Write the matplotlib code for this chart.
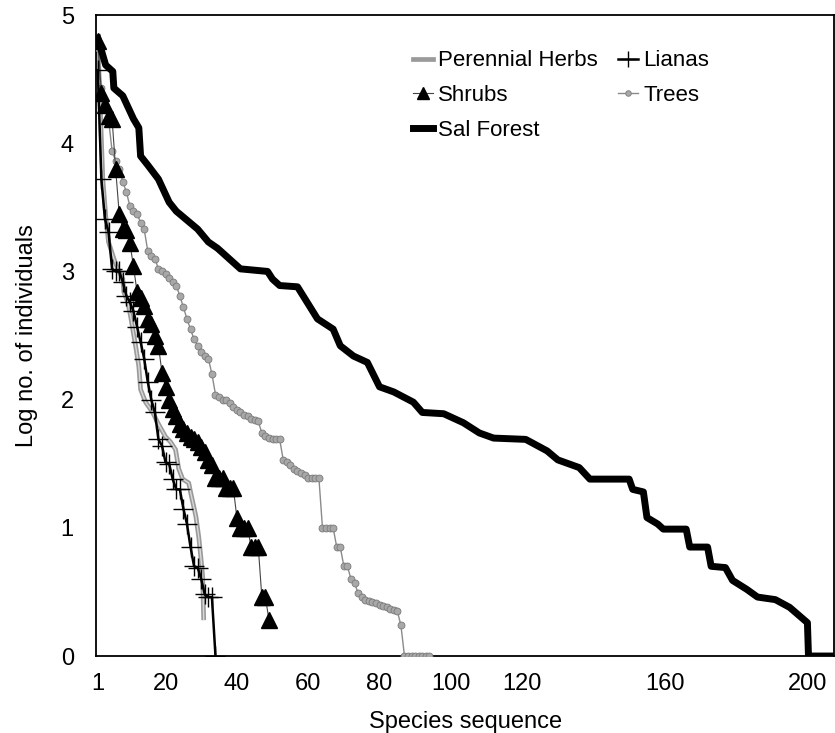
import matplotlib
matplotlib.use('Agg')
import matplotlib.pyplot as plt

plt.rcParams['font.family'] = ['Liberation Sans', 'DejaVu Sans']

# Perennial herbs (line only): rank, log abundance
herb_rank = [1, 2.4, 3.2, 4, 5.5, 6.6, 8, 8.3, 9.4, 10.2, 10.8, 11.6, 12.5, 13, 14.4,
             16.4, 17.8, 20, 21.4, 22.8, 23.7, 24.8, 26.5, 27, 28.5, 29.3, 29.9, 30.4, 30.7]
herb_log = [4.8, 3.72, 3.44, 3.23, 3.1, 3.02, 2.94, 2.84, 2.76, 2.65, 2.55, 2.42, 2.26, 2.08, 1.98,
            1.9, 1.82, 1.71, 1.67, 1.61, 1.46, 1.38, 1.35, 1.28, 1.09, 0.93, 0.77, 0.62, 0.28]

# Lianas, one value per species
liana_log = [4.57, 3.72, 3.41, 3.31, 3.02, 3.0, 3.0, 2.92, 2.81, 2.76, 2.69, 2.57, 2.45, 2.32,
             2.14, 2.0, 1.9, 1.69, 1.64, 1.51, 1.5, 1.38, 1.3, 1.3, 1.15, 1.03, 0.85, 0.7,
             0.69, 0.6, 0.48, 0.46, 0.46, 0.0]

# Shrubs, one value per species
shrub_log = [4.8, 4.39, 4.3, 4.21, 4.19, 3.8, 3.45, 3.33, 3.32, 3.22, 3.04, 2.84, 2.79, 2.73,
             2.63, 2.59, 2.5, 2.42, 2.21, 2.1, 2.0, 1.93, 1.87, 1.81, 1.77, 1.74, 1.71, 1.69,
             1.67, 1.63, 1.59, 1.53, 1.49, 1.39, 1.39, 1.39, 1.31, 1.31, 1.31, 1.08, 1.0, 1.0,
             1.0, 0.85, 0.85, 0.85, 0.46, 0.46, 0.28]

# Trees, one value per species
tree_log = [4.74, 4.43, 4.3, 4.19, 3.94, 3.86, 3.8, 3.7, 3.62, 3.51, 3.47, 3.45, 3.38, 3.33,
            3.16, 3.12, 3.1, 3.02, 3.0, 2.98, 2.95, 2.92, 2.89, 2.81, 2.72, 2.63, 2.55, 2.47,
            2.42, 2.37, 2.34, 2.32, 2.2, 2.04, 2.02, 2.0, 2.0, 1.97, 1.94, 1.92, 1.9, 1.88,
            1.87, 1.85, 1.84, 1.83, 1.74, 1.72, 1.7, 1.69, 1.69, 1.69, 1.53, 1.51, 1.49, 1.46,
            1.44, 1.43, 1.41, 1.39, 1.39, 1.39, 1.39, 1.0, 1.0, 1.0, 1.0, 0.85, 0.85, 0.7,
            0.7, 0.6, 0.57, 0.49, 0.46, 0.44, 0.43, 0.42, 0.41, 0.4, 0.39, 0.38, 0.37, 0.36,
            0.35, 0.24, 0.0, 0.0, 0.0, 0.0, 0.0, 0.0, 0.0, 0.0]

# Sal forest (all species, line only)
sal_rank = [1, 3.2, 5.2, 5.5, 8, 11, 12.5, 13, 15, 18, 21, 23, 29, 32, 34.6, 39, 41, 48.6, 50,
            52, 57, 62.6, 67, 69, 72.7, 76.6, 80, 84, 89.5, 92, 98, 103.5, 108, 112, 121, 127,
            130, 136, 139, 150, 151, 154, 155, 158, 159.6, 166, 167, 172, 173, 177, 179, 183,
            186, 191, 195, 200, 200.3, 207.5]
sal_log = [4.82, 4.61, 4.56, 4.43, 4.37, 4.19, 4.12, 3.9, 3.83, 3.72, 3.54, 3.47, 3.33, 3.23,
           3.18, 3.07, 3.02, 3.0, 2.94, 2.89, 2.88, 2.63, 2.55, 2.42, 2.34, 2.29, 2.1, 2.06,
           1.98, 1.9, 1.89, 1.82, 1.74, 1.7, 1.69, 1.6, 1.53, 1.47, 1.38, 1.38, 1.3, 1.28,
           1.08, 1.03, 0.99, 0.99, 0.85, 0.85, 0.7, 0.69, 0.59, 0.52, 0.46, 0.44, 0.38, 0.26,
           0.0, 0.0]

x_ticks = [1, 20, 40, 60, 80, 100, 120, 160, 200]
y_ticks = [0, 1, 2, 3, 4, 5]

fig = plt.figure(figsize=(8.35, 7.33), dpi=100)
ax = fig.add_axes([0.115, 0.105, 0.884, 0.8745])

liana_rank = list(range(1, len(liana_log) + 1))
shrub_rank = list(range(1, len(shrub_log) + 1))
tree_rank = list(range(1, len(tree_log) + 1))

# herbs: grey band with a pale centre, like the printed double line
ax.plot(herb_rank, herb_log, color='#9a9a9a', lw=3.4, zorder=2, solid_capstyle='butt')
ax.plot(herb_rank, herb_log, color='#d8d8d8', lw=1.0, zorder=2.1, solid_capstyle='butt')
h_herb, = ax.plot([], [], color='#9a9a9a', lw=3.4, label='Perennial Herbs')

h_tree, = ax.plot(tree_rank, tree_log, color='#8a8a8a', lw=1, marker='o', ms=5,
                  mfc='#a8a8a8', mec='#7a7a7a', mew=0.6, label='Trees', zorder=3)
h_shrub, = ax.plot(shrub_rank, shrub_log, color='#444444', lw=0.8, marker='^', ms=11,
                   mfc='black', mec='black', label='Shrubs', zorder=4)
h_liana, = ax.plot(liana_rank, liana_log, color='black', lw=1.8, marker='+', ms=15,
                   mew=1.0, label='Lianas', zorder=5)
h_sal, = ax.plot(sal_rank, sal_log, color='black', lw=5, solid_joinstyle='round',
                 label='Sal Forest', zorder=6)

ax.set_xlim(0.5, 207.5)
ax.set_ylim(0, 5)
ax.set_xticks(x_ticks)
ax.set_yticks(y_ticks)
ax.tick_params(length=0, labelsize=17)
ax.tick_params(axis='y', pad=16)
ax.tick_params(axis='x', pad=12)
for s in ax.spines.values():
    s.set_linewidth(1.3)

ax.set_xlabel('Species sequence', fontsize=17, labelpad=12)
ax.set_ylabel('Log no. of individuals', fontsize=17, labelpad=16)

handles = [h_herb, h_shrub, h_sal, h_liana, h_tree]
ax.legend(handles=handles, labels=[h.get_label() for h in handles], ncol=2, frameon=False,
          fontsize=16, handlelength=0.9, handletextpad=0.25, columnspacing=0.9,
          labelspacing=0.62, borderpad=0, borderaxespad=0, markerscale=0.8,
          loc='upper left', bbox_to_anchor=(0.429, 0.945))

fig.savefig('out.png', dpi=100)
